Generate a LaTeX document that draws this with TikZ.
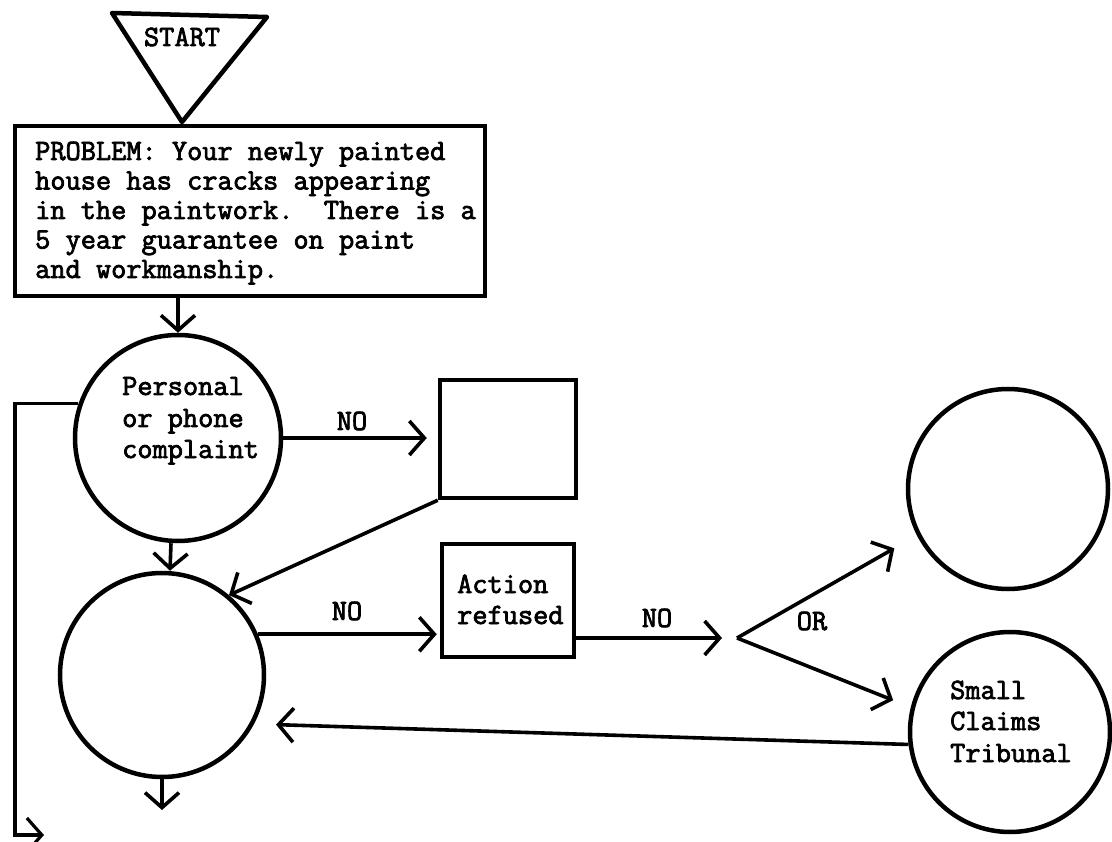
\documentclass[tikz,border=0pt]{standalone}
\usepackage{fontspec}
\newfontfamily\twfont[FakeBold=2.6]{Latin Modern Mono}
\usetikzlibrary{arrows.meta,calc}
\begin{document}
\begin{tikzpicture}[x=1pt,y=-1pt,
  tw/.style={font=\twfont\fontsize{29.5pt}{30pt}\selectfont\frenchspacing, inner sep=0pt, anchor=base west},
  shp/.style={draw, line width=4.5pt, inner sep=0pt},
  arr/.style={line width=3.6pt, -{Straight Barb[length=15pt,width=34pt]}}]
\useasboundingbox[fill=white] (0,0) rectangle (1112,842);
% start triangle
\coordinate (t1) at (112,13);
\coordinate (t2) at (267,17);
\coordinate (t3) at (182,122);
\draw[line width=4.5pt, line join=round] (t1) -- (t2) -- (t3) -- cycle;
\node[tw, anchor=base] (start) at (182,46) {START};
% problem box
\node[shp, minimum width=470pt, minimum height=170pt] (prob) at (250,211) {};
\node[tw] (p1) at (35,160) {PROBLEM: Your newly painted};
\node[tw] (p2) at (35,189.5) {house has cracks appearing};
\node[tw] (p3) at (35,219) {in the paintwork.\ \ There is a};
\node[tw] (p4) at (35,248.5) {5 year guarantee on paint};
\node[tw] (p5) at (35,278) {and workmanship.};
% circles and boxes
\node[shp, circle, minimum size=206pt] (c1) at (178,438) {};
\node[tw] (c1a) at (122,395) {Personal};
\node[tw] (c1b) at (122,427) {or phone};
\node[tw] (c1c) at (122,458) {complaint};
\node[shp, minimum width=136pt, minimum height=118pt] (box2) at (508,439) {};
\node[shp, circle, minimum size=204pt] (c2) at (162,675) {};
\node[shp, minimum width=132pt, minimum height=113pt] (act) at (508,600.5) {};
\node[tw] (acta) at (457,593) {Action};
\node[tw] (actb) at (457,624) {refused};
\node[shp, circle, minimum size=200pt] (c3) at (1008,489) {};
\node[shp, circle, minimum size=200pt] (c4) at (1010,732) {};
\node[tw] (c4a) at (950,699) {Small};
\node[tw] (c4b) at (950,730) {Claims};
\node[tw] (c4c) at (950,762) {Tribunal};
% labels
\node[tw, anchor=base] (no1) at (352,430) {NO};
\node[tw, anchor=base] (no2) at (347,620) {NO};
\node[tw, anchor=base] (no3) at (657,627) {NO};
\node[tw, anchor=base] (or) at (812,630) {OR};
% coordinates
\coordinate (fork) at (737,638);
\coordinate (lt) at (15,404);
\coordinate (lb) at (15,835);
\coordinate (lend) at (44,835);
\coordinate (c2out) at (162,810);
% connectors
\draw[arr] (c1.north |- prob.south) -- (c1.north);
\draw[arr, shorten >=11pt] (c1.east) -- (c1.east -| box2.west);
\draw[arr] ($(c1.south)+(-7,0)$) -- ($(c2.north)+(8,0)$);
\draw[arr] (box2.south west) -- (c2.50);
\draw[arr, shorten >=3pt] (c2.23) -- (c2.23 -| act.west);
\draw[arr, shorten >=15pt] (act.east |- fork) -- (fork);
\draw[arr, shorten >=26pt] (fork) -- (c3.207);
\draw[arr, shorten >=19pt] (fork) -- (c4.166);
\draw[arr, shorten >=22pt] (c4.187) -- (c2.332);
\draw[arr, line width=3.2pt] (c1.161) -- (c1.161 -| lt) -- (lb) -- (lend);
\draw[arr] (c2.south) -- (c2out);
\end{tikzpicture}
\end{document}
